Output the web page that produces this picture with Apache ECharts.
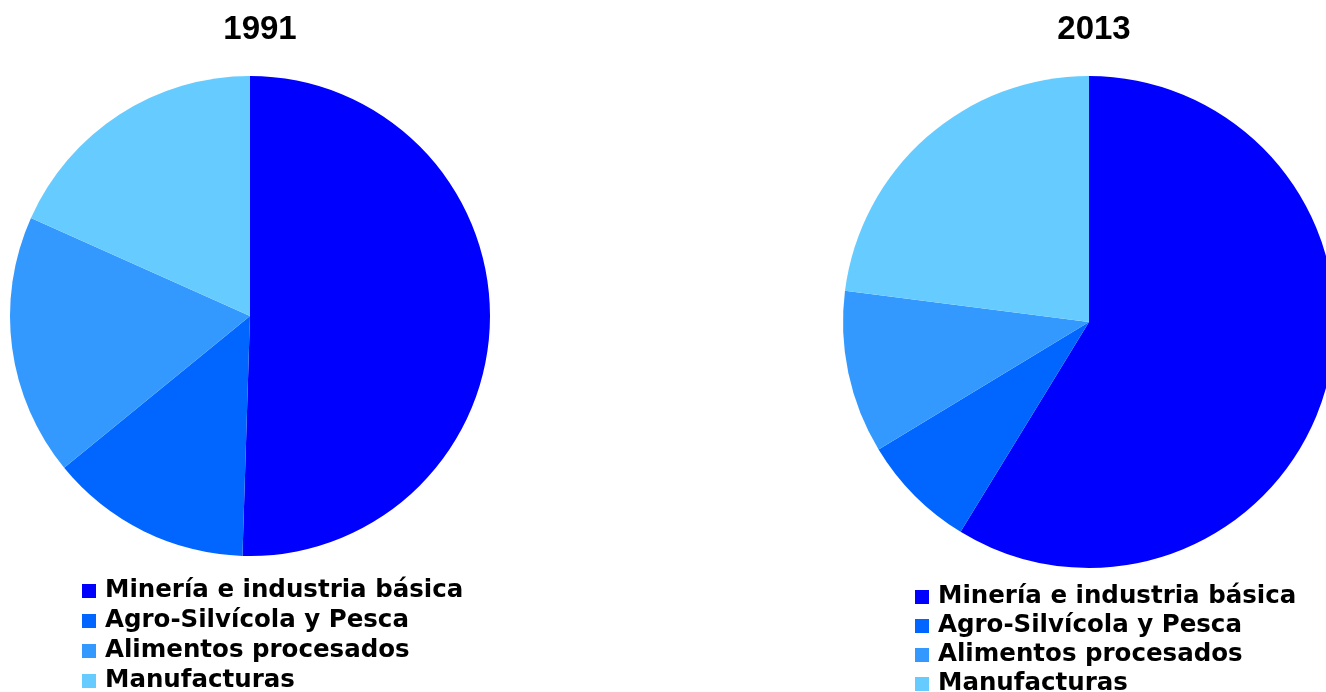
<!DOCTYPE html>
<html>
<head>
<meta charset="utf-8">
<script src="https://cdn.jsdelivr.net/npm/echarts@6/dist/echarts.min.js"></script>
<style>
html,body{margin:0;padding:0;background:#fff;}
#chart{width:1326px;height:692px;}
</style>
</head>
<body>
<div id="chart"></div>
<script>
const categories = ['Minería e industria básica', 'Agro-Silvícola y Pesca', 'Alimentos procesados', 'Manufacturas'];
const years = ['1991', '2013'];
const values1991 = [50.5, 13.6, 17.6, 18.3];
const values2013 = [58.8, 7.6, 10.7, 23.0];
const colors = ['#0000FF', '#0066FF', '#3399FF', '#66CCFF'];

const FONT = "'Liberation Sans', Arial, sans-serif";
const LFONT = "'DejaVu Sans', 'Liberation Sans', Arial, sans-serif";
const chart = echarts.init(document.getElementById('chart'));

function pieData(vals) {
  return categories.map((c, i) => ({ name: c, value: vals[i] }));
}

const legendText = { fontFamily: LFONT, fontWeight: 'bold', fontSize: 24.5, color: '#000', lineHeight: 30, padding: [0, 0, 0, 4] };

chart.setOption({
  animation: false,
  color: colors,
  title: [
    { text: years[0], left: 260, top: 13, textAlign: 'center', padding: 0,
      textStyle: { fontFamily: FONT, fontWeight: 'bold', fontSize: 33, lineHeight: 34, color: '#000' } },
    { text: years[1], left: 1094, top: 13, textAlign: 'center', padding: 0,
      textStyle: { fontFamily: FONT, fontWeight: 'bold', fontSize: 33, lineHeight: 34, color: '#000' } }
  ],
  legend: [
    { data: categories, orient: 'vertical', left: 82, top: 576, height: 200, padding: 0,
      itemWidth: 14, itemHeight: 14, itemGap: 0, icon: 'rect', selectedMode: false,
      textStyle: legendText },
    { data: categories, orient: 'vertical', left: 915, top: 582, height: 200, padding: 0,
      itemWidth: 14, itemHeight: 14, itemGap: -1, icon: 'rect', selectedMode: false,
      textStyle: legendText }
  ],
  series: [
    { type: 'pie', name: years[0], center: [250, 316], radius: 240, startAngle: 90, clockwise: true,
      label: { show: false }, labelLine: { show: false }, silent: true,
      itemStyle: { borderWidth: 0 }, data: pieData(values1991) },
    { type: 'pie', name: years[1], center: [1089, 322], radius: 246, startAngle: 90, clockwise: true,
      label: { show: false }, labelLine: { show: false }, silent: true,
      itemStyle: { borderWidth: 0 }, data: pieData(values2013) }
  ]
});
</script>
</body>
</html>
